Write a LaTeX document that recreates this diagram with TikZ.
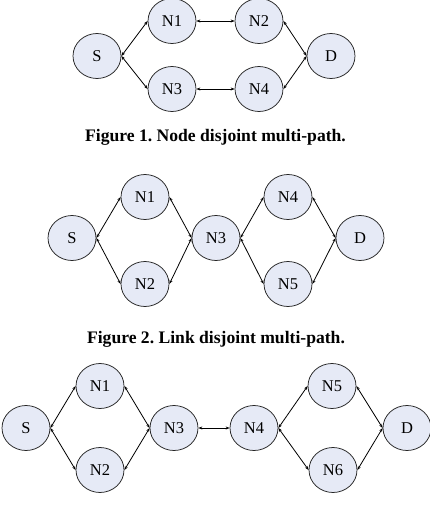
\documentclass[tikz,border=0pt]{standalone}
\usepackage{fontspec}
\setmainfont{Liberation Serif}
\usepackage{tikz}
\usetikzlibrary{shapes.geometric,arrows.meta}
\definecolor{peerfill}{RGB}{230,234,246}
\frenchspacing

\tikzset{
  peer/.style={ellipse, draw=black!85, fill=peerfill, line width=0.75pt,
    minimum width=48pt, minimum height=45pt, inner sep=0pt, font=\fontsize{16.5}{16.5}\selectfont},
  hop/.style={line width=0.8pt, {Stealth[length=4pt,width=3pt]}-{Stealth[length=4pt,width=3pt]}},
  caption/.style={font=\fontsize{17.6}{17.6}\selectfont\bfseries, anchor=base, inner sep=0pt}
}

\begin{document}
\begin{tikzpicture}[x=1pt, y=-1pt]
  \useasboundingbox (0,0) rectangle (430,506);

  % Figure 1 nodes
  \node[peer] (s1) at (97,56) {S};
  \node[peer] (a1) at (172,21) {N1};
  \node[peer] (b1) at (259,21) {N2};
  \node[peer] (c1) at (172,89) {N3};
  \node[peer] (d1) at (259,89) {N4};
  \node[peer] (t1) at (331,56) {D};

  % Figure 1 paths
  \draw[hop] (s1.east) -- (a1.west);
  \draw[hop] (s1.east) -- (c1.west);
  \draw[hop] (a1) -- (b1);
  \draw[hop] (c1) -- (d1);
  \draw[hop] (b1.east) -- (t1.west);
  \draw[hop] (d1.east) -- (t1.west);

  \node[caption] (cap1) at (215.5,141) {Figure 1. Node disjoint multi-path.};

  % Figure 2 nodes
  \node[peer] (s2) at (72,238) {S};
  \node[peer] (a2) at (145,197) {N1};
  \node[peer] (b2) at (145,284) {N2};
  \node[peer] (m2) at (216,238) {N3};
  \node[peer] (c2) at (288,197) {N4};
  \node[peer] (d2) at (288,284) {N5};
  \node[peer] (t2) at (360,238) {D};

  % Figure 2 paths
  \draw[hop] (s2.east) -- (a2.west);
  \draw[hop] (s2.east) -- (b2.west);
  \draw[hop] (a2.east) -- (m2.west);
  \draw[hop] (b2.east) -- (m2.west);
  \draw[hop] (m2.east) -- (c2.west);
  \draw[hop] (m2.east) -- (d2.west);
  \draw[hop] (c2.east) -- (t2.west);
  \draw[hop] (d2.east) -- (t2.west);

  \node[caption] (cap2) at (216,343) {Figure 2. Link disjoint multi-path.};

  % Figure 3 nodes
  \node[peer] (s3) at (26,428) {S};
  \node[peer] (a3) at (100,386) {N1};
  \node[peer] (b3) at (100,470) {N2};
  \node[peer] (m3) at (174,428) {N3};
  \node[peer] (n3) at (254,428) {N4};
  \node[peer] (c3) at (332,386) {N5};
  \node[peer] (d3) at (333,470) {N6};
  \node[peer] (t3) at (407,428) {D};

  % Figure 3 paths
  \draw[hop] (s3.east) -- (a3.west);
  \draw[hop] (s3.east) -- (b3.west);
  \draw[hop] (a3.east) -- (m3.west);
  \draw[hop] (b3.east) -- (m3.west);
  \draw[hop] (m3) -- (n3);
  \draw[hop] (n3.east) -- (c3.west);
  \draw[hop] (n3.east) -- (d3.west);
  \draw[hop] (c3.east) -- (t3.west);
  \draw[hop] (d3.east) -- (t3.west);
\end{tikzpicture}
\end{document}
